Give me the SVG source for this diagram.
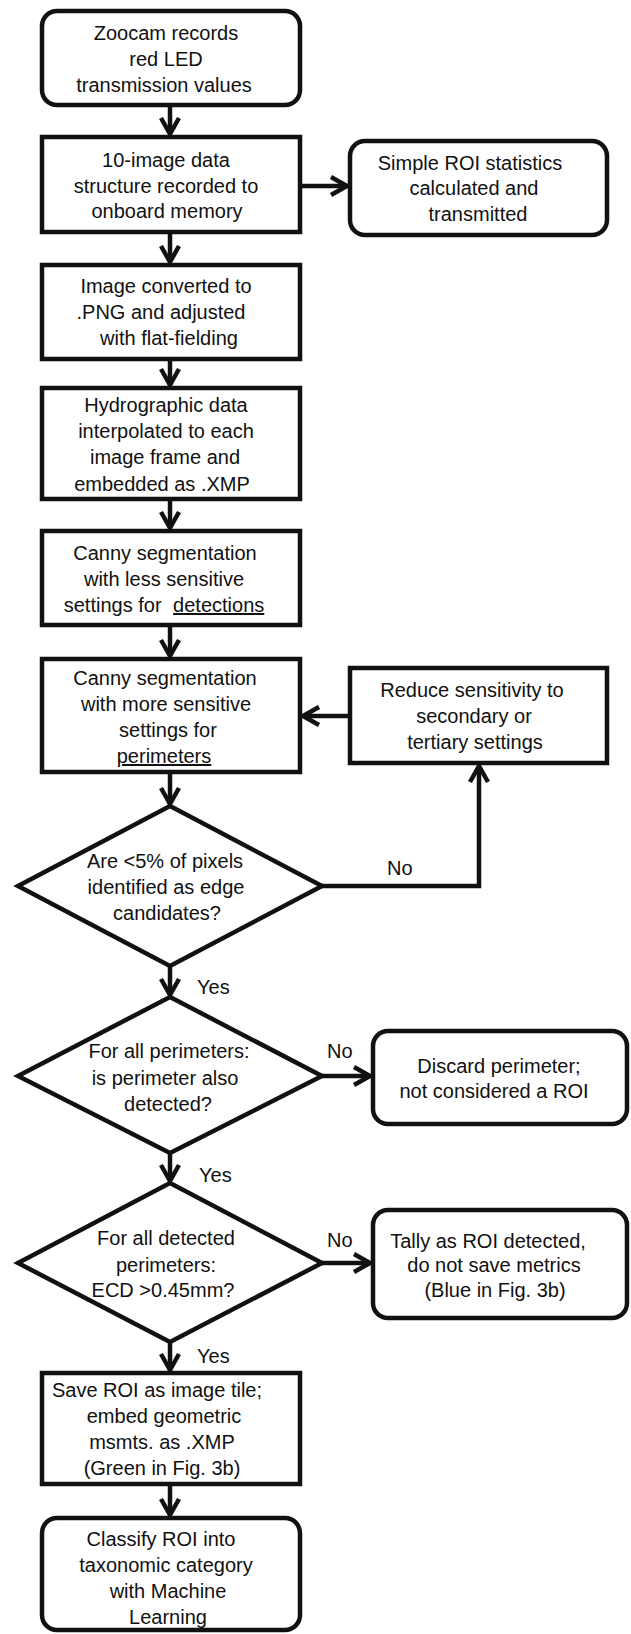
<svg xmlns="http://www.w3.org/2000/svg" width="631" height="1634" viewBox="0 0 631 1634">
<style>
.n{fill:#fff;stroke:#111;stroke-width:4.5}
.c{fill:none;stroke:#111;stroke-width:4.5}
text{font-family:"Liberation Sans",Arial,sans-serif;font-size:20px;fill:#111;text-anchor:middle}
.l{text-anchor:start}
.u{text-decoration:underline}
</style>
<defs>
<marker id="ah" markerUnits="userSpaceOnUse" viewBox="-20 -12 24 24" refX="0" refY="0" markerWidth="24" markerHeight="24" orient="auto" overflow="visible">
<path d="M-16,-9 L0,0 L-16,9" fill="none" stroke="#111" stroke-width="4.5" stroke-linejoin="miter"/>
</marker>
</defs>
<rect x="0" y="0" width="631" height="1634" fill="#fff"/>
<g id="connectors">
<line class="c" x1="170" y1="105" x2="170" y2="134" marker-end="url(#ah)"/>
<line class="c" x1="300" y1="186" x2="347" y2="186" marker-end="url(#ah)"/>
<line class="c" x1="170" y1="232" x2="170" y2="262" marker-end="url(#ah)"/>
<line class="c" x1="170" y1="359" x2="170" y2="385" marker-end="url(#ah)"/>
<line class="c" x1="170" y1="499" x2="170" y2="528" marker-end="url(#ah)"/>
<line class="c" x1="170" y1="625" x2="170" y2="656" marker-end="url(#ah)"/>
<line class="c" x1="170" y1="772" x2="170" y2="804" marker-end="url(#ah)"/>
<polyline class="c" points="322,886 479,886 479,766" marker-end="url(#ah)"/>
<line class="c" x1="350" y1="716" x2="303" y2="716" marker-end="url(#ah)"/>
<line class="c" x1="170" y1="966" x2="170" y2="995" marker-end="url(#ah)"/>
<line class="c" x1="322" y1="1076" x2="370" y2="1076" marker-end="url(#ah)"/>
<line class="c" x1="170" y1="1153" x2="170" y2="1181" marker-end="url(#ah)"/>
<line class="c" x1="322" y1="1263" x2="370" y2="1263" marker-end="url(#ah)"/>
<line class="c" x1="170" y1="1342" x2="170" y2="1370" marker-end="url(#ah)"/>
<line class="c" x1="170" y1="1484" x2="170" y2="1515" marker-end="url(#ah)"/>
<text class="l" x="387" y="875">No</text>
<text class="l" x="197" y="994">Yes</text>
<text class="l" x="327" y="1058">No</text>
<text class="l" x="199" y="1182">Yes</text>
<text class="l" x="327" y="1247">No</text>
<text class="l" x="197" y="1363">Yes</text>
</g>
<g id="n1">
<rect class="n" x="42" y="11" width="258" height="94" rx="15"/>
<text x="166" y="40">Zoocam records</text>
<text x="166" y="66">red LED</text>
<text x="164" y="92">transmission values</text>
</g>
<g id="n2">
<rect class="n" x="42" y="137" width="258" height="95"/>
<text x="166" y="167">10-image data</text>
<text x="166" y="193">structure recorded to</text>
<text x="167" y="218">onboard memory</text>
</g>
<g id="n3">
<rect class="n" x="350" y="141" width="257" height="94" rx="15"/>
<text x="470" y="170">Simple ROI statistics</text>
<text x="474" y="195">calculated and</text>
<text x="478" y="221">transmitted</text>
</g>
<g id="n4">
<rect class="n" x="42" y="265" width="258" height="94"/>
<text x="166" y="293">Image converted to</text>
<text x="161" y="319">.PNG and adjusted</text>
<text x="169" y="345">with flat-fielding</text>
</g>
<g id="n5">
<rect class="n" x="42" y="388" width="258" height="111"/>
<text x="166" y="412">Hydrographic data</text>
<text x="166" y="438">interpolated to each</text>
<text x="165" y="464">image frame and</text>
<text x="162" y="491">embedded as .XMP</text>
</g>
<g id="n6">
<rect class="n" x="42" y="531" width="258" height="94"/>
<text x="165" y="560">Canny segmentation</text>
<text x="164" y="586">with less sensitive</text>
<text x="164" y="612">settings for <tspan class="u" dx="6">detections</tspan></text>
</g>
<g id="n7">
<rect class="n" x="42" y="659" width="258" height="113"/>
<text x="165" y="685">Canny segmentation</text>
<text x="166" y="711">with more sensitive</text>
<text x="168" y="737">settings for</text>
<text x="164" y="763" class="u">perimeters</text>
</g>
<g id="n8">
<rect class="n" x="350" y="668" width="257" height="95"/>
<text x="472" y="697">Reduce sensitivity to</text>
<text x="474" y="723">secondary or</text>
<text x="475" y="749">tertiary settings</text>
</g>
<g id="n9">
<polygon class="n" points="170,806 322,886 170,966 18,886"/>
<text x="165" y="868">Are &lt;5% of pixels</text>
<text x="166" y="894">identified as edge</text>
<text x="167" y="920">candidates?</text>
</g>
<g id="n10">
<polygon class="n" points="170,997 322,1076 170,1153 18,1076"/>
<text x="169" y="1058">For all perimeters:</text>
<text x="165" y="1085">is perimeter also</text>
<text x="168" y="1111">detected?</text>
</g>
<g id="n11">
<rect class="n" x="373" y="1031" width="254" height="93" rx="15"/>
<text x="499" y="1073">Discard perimeter;</text>
<text x="494" y="1098">not considered a ROI</text>
</g>
<g id="n12">
<polygon class="n" points="170,1183 322,1263 170,1342 18,1263"/>
<text x="166" y="1245">For all detected</text>
<text x="166" y="1272">perimeters:</text>
<text x="163" y="1297">ECD &gt;0.45mm?</text>
</g>
<g id="n13">
<rect class="n" x="373" y="1210" width="254" height="108" rx="15"/>
<text x="488" y="1248">Tally as ROI detected,</text>
<text x="494" y="1272">do not save metrics</text>
<text x="495" y="1297">(Blue in Fig. 3b)</text>
</g>
<g id="n14">
<rect class="n" x="42" y="1373" width="258" height="111"/>
<text x="157" y="1397">Save ROI as image tile;</text>
<text x="164" y="1423">embed geometric</text>
<text x="162" y="1449">msmts. as .XMP</text>
<text x="162" y="1475">(Green in Fig. 3b)</text>
</g>
<g id="n15">
<rect class="n" x="42" y="1518" width="258" height="112" rx="15"/>
<text x="161" y="1546">Classify ROI into</text>
<text x="166" y="1572">taxonomic category</text>
<text x="168" y="1598">with Machine</text>
<text x="168" y="1624">Learning</text>
</g>
</svg>
